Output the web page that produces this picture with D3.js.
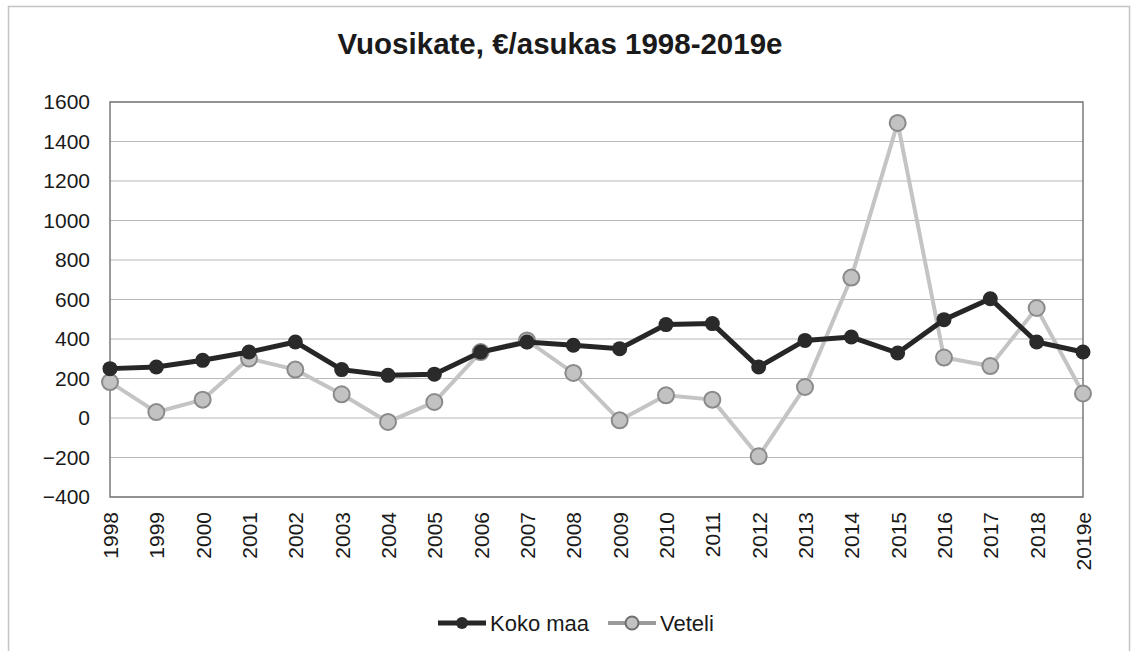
<!DOCTYPE html>
<html>
<head>
<meta charset="utf-8">
<script src="https://cdn.jsdelivr.net/npm/d3@7"></script>
<style>
  body { margin: 0; background: #fff; }
  text { font-family: "Liberation Sans", Arial, sans-serif; fill: #1a1a1a; }
</style>
</head>
<body>
<div class="chart"></div>
<script>
'use strict';

// data
var years = ['1998', '1999', '2000', '2001', '2002', '2003', '2004', '2005', '2006', '2007', '2008',
             '2009', '2010', '2011', '2012', '2013', '2014', '2015', '2016', '2017', '2018', '2019e'];
var kokoMaa = [250, 258, 292, 334, 385, 245, 216, 222, 334, 385, 368,
               351, 473, 478, 258, 393, 410, 329, 498, 604, 385, 334];
var veteli = [182, 30, 93, 301, 245, 120, -20, 81, 334, 393, 228,
              -12, 115, 93, -194, 157, 711, 1494, 306, 263, 557, 124];
var yTicks = [-400, -200, 0, 200, 400, 600, 800, 1000, 1200, 1400, 1600];

var width = 1133;
var height = 651;
var margin = { top: 102, right: 50, bottom: 154, left: 110 };

var svg = d3.select('.chart')
  .append('svg')
  .attr('width', width)
  .attr('height', height);

// outer chart border
svg.append('rect')
  .attr('x', 8.5).attr('y', 6.5)
  .attr('width', 1121).attr('height', 660)
  .attr('fill', 'none')
  .attr('stroke', '#c4c4c4')
  .attr('stroke-width', 1.5);

var x = d3.scalePoint()
  .domain(years)
  .range([margin.left, width - margin.right]);

var y = d3.scaleLinear()
  .domain([-400, 1600])
  .range([height - margin.bottom, margin.top]);

// gridlines
svg.append('g')
  .selectAll('line')
  .data(yTicks)
  .enter()
  .append('line')
  .attr('x1', margin.left)
  .attr('x2', width - margin.right)
  .attr('y1', function(d) { return y(d); })
  .attr('y2', function(d) { return y(d); })
  .attr('stroke', '#b8b8b8')
  .attr('stroke-width', 1.2);

// plot frame
svg.append('rect')
  .attr('x', margin.left).attr('y', margin.top)
  .attr('width', width - margin.right - margin.left)
  .attr('height', height - margin.bottom - margin.top)
  .attr('fill', 'none')
  .attr('stroke', '#7a7a7a')
  .attr('stroke-width', 1.5);

// y axis labels
var yAxis = d3.axisLeft(y)
  .tickValues(yTicks)
  .tickFormat(d3.format('d'))
  .tickSize(0)
  .tickPadding(20);
svg.append('g')
  .attr('transform', 'translate(' + margin.left + ',0)')
  .call(yAxis)
  .call(function(g) { g.select('.domain').remove(); })
  .selectAll('text')
  .attr('font-size', '21px')
  .attr('fill', '#1a1a1a');

// x axis labels, rotated
var xAxis = d3.axisBottom(x).tickSize(0).tickPadding(0);
svg.append('g')
  .attr('transform', 'translate(0,' + (height - margin.bottom) + ')')
  .call(xAxis)
  .call(function(g) { g.select('.domain').remove(); })
  .selectAll('text')
  .attr('font-size', '21px')
  .attr('fill', '#1a1a1a')
  .attr('text-anchor', 'end')
  .attr('dy', '0.35em')
  .attr('transform', 'translate(0,15) rotate(-90)');

var line = d3.line()
  .x(function(d, i) { return x(years[i]); })
  .y(function(d) { return y(d); });

// Veteli series (light gray)
svg.append('path')
  .datum(veteli)
  .attr('d', line)
  .attr('fill', 'none')
  .attr('stroke', '#c4c4c4')
  .attr('stroke-width', 4);

svg.append('g')
  .selectAll('circle')
  .data(veteli)
  .enter()
  .append('circle')
  .attr('cx', function(d, i) { return x(years[i]); })
  .attr('cy', function(d) { return y(d); })
  .attr('r', 8)
  .attr('fill', '#c2c2c2')
  .attr('stroke', '#8a8a8a')
  .attr('stroke-width', 2);

// Koko maa series (black)
svg.append('path')
  .datum(kokoMaa)
  .attr('d', line)
  .attr('fill', 'none')
  .attr('stroke', '#262626')
  .attr('stroke-width', 5);

svg.append('g')
  .selectAll('circle')
  .data(kokoMaa)
  .enter()
  .append('circle')
  .attr('cx', function(d, i) { return x(years[i]); })
  .attr('cy', function(d) { return y(d); })
  .attr('r', 7.5)
  .attr('fill', '#2a2a2a');

// title
svg.append('text')
  .attr('x', 560)
  .attr('y', 54)
  .attr('text-anchor', 'middle')
  .attr('font-size', '29.5px')
  .attr('font-weight', 'bold')
  .text('Vuosikate, €/asukas 1998-2019e');

// legend
var legendY = 623;
var lg = svg.append('g');
lg.append('line')
  .attr('x1', 438).attr('x2', 486)
  .attr('y1', legendY).attr('y2', legendY)
  .attr('stroke', '#262626').attr('stroke-width', 5);
lg.append('circle')
  .attr('cx', 462).attr('cy', legendY).attr('r', 6)
  .attr('fill', '#2a2a2a');
lg.append('text')
  .attr('x', 490).attr('y', legendY)
  .attr('dy', '0.35em')
  .attr('font-size', '22px')
  .text('Koko maa');

lg.append('line')
  .attr('x1', 608).attr('x2', 656)
  .attr('y1', legendY).attr('y2', legendY)
  .attr('stroke', '#9a9a9a').attr('stroke-width', 4);
lg.append('circle')
  .attr('cx', 632).attr('cy', legendY).attr('r', 6.5)
  .attr('fill', '#c2c2c2')
  .attr('stroke', '#6f6f6f')
  .attr('stroke-width', 2);
lg.append('text')
  .attr('x', 660).attr('y', legendY)
  .attr('dy', '0.35em')
  .attr('font-size', '22px')
  .text('Veteli');
</script>
</body>
</html>
